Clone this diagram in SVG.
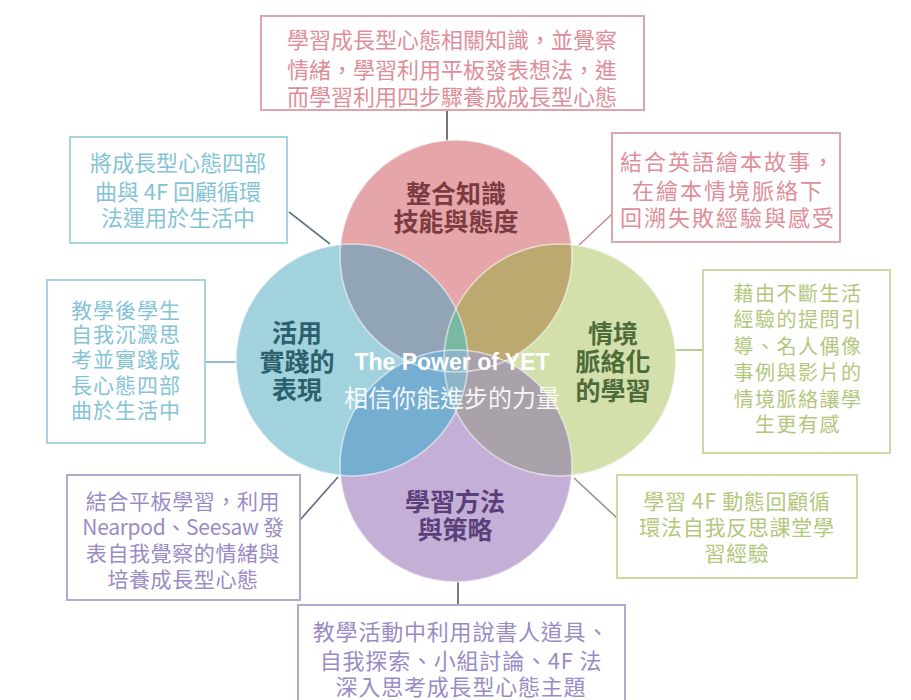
<svg xmlns="http://www.w3.org/2000/svg" width="911" height="700" viewBox="0 0 911 700">
<style>
.cjk{font-family:"Noto Sans CJK TC","Noto Sans CJK SC",sans-serif;text-anchor:middle}
.box{fill:#fff;stroke-width:2}
.lt{font-size:22px;font-weight:400}
.ct{font-size:25px;font-weight:700}
.pinkB{stroke:#dba5ad}.pinkT{fill:#de8e99}
.blueB{stroke:#a7d3de}.blueT{fill:#84c3d6}
.greenB{stroke:#cbd9a3}.greenT{fill:#b3c77c}
.purpB{stroke:#b3a9cf}.purpT{fill:#9a8bc6}
.conn line{stroke-width:1.6}
.ring{fill:none;stroke:#fff;stroke-opacity:.55;stroke-width:1.6}
</style>
<defs>
<clipPath id="cTop"><circle cx="456" cy="256" r="116"/></clipPath>
<clipPath id="cLeft"><circle cx="352" cy="360" r="116"/></clipPath>
<clipPath id="cRight"><circle cx="560" cy="360" r="116"/></clipPath>
<clipPath id="cBot"><circle cx="456" cy="466" r="116"/></clipPath>
</defs>
<rect width="911" height="700" fill="#fff"/>

<g id="connectors" class="conn">
<line x1="447" y1="110" x2="447" y2="141" stroke="#5e4d52"/>
<line x1="289" y1="212" x2="330" y2="244" stroke="#5f7882"/>
<line x1="612" y1="214" x2="578" y2="246" stroke="#c98c97"/>
<line x1="205" y1="362" x2="237" y2="362" stroke="#72afbf"/>
<line x1="675" y1="350" x2="703" y2="350" stroke="#a8bf78"/>
<line x1="300" y1="520" x2="338" y2="477" stroke="#6a6480"/>
<line x1="574" y1="478" x2="617" y2="518" stroke="#8e9a82"/>
<line x1="458" y1="580" x2="458" y2="605" stroke="#585858"/>
</g>

<g id="venn">
<circle cx="456" cy="256" r="116" fill="#e6a5a9"/>
<circle cx="352" cy="360" r="116" fill="#a1d2de"/>
<circle cx="560" cy="360" r="116" fill="#d3e0ac"/>
<circle cx="456" cy="466" r="116" fill="#c4b0d7"/>
<circle cx="352" cy="360" r="116" fill="#91a5b6" clip-path="url(#cTop)"/>
<circle cx="560" cy="360" r="116" fill="#bca96f" clip-path="url(#cTop)"/>
<circle cx="352" cy="360" r="116" fill="#76aed2" clip-path="url(#cBot)"/>
<circle cx="560" cy="360" r="116" fill="#a9a2aa" clip-path="url(#cBot)"/>
<circle cx="352" cy="360" r="116" fill="#79b9a3" clip-path="url(#cRight)"/>
<g clip-path="url(#cBot)"><circle cx="352" cy="360" r="116" fill="#8cb6c8" clip-path="url(#cRight)"/></g>
<circle class="ring" cx="456" cy="256" r="116"/>
<circle class="ring" cx="352" cy="360" r="116"/>
<circle class="ring" cx="560" cy="360" r="116"/>
<circle class="ring" cx="456" cy="466" r="116"/>
</g>

<g id="circle-top" class="cjk ct" fill="#7b3b41">
<text x="456" y="203">整合知識</text>
<text x="456" y="231">技能與態度</text>
</g>
<g id="circle-left" class="cjk ct" fill="#2d606d">
<text x="297" y="342">活用</text>
<text x="297" y="371">實踐的</text>
<text x="297" y="399">表現</text>
</g>
<g id="circle-right" class="cjk ct" fill="#4e6b3a">
<text x="613" y="343">情境</text>
<text x="613" y="371">脈絡化</text>
<text x="613" y="400">的學習</text>
</g>
<g id="circle-bottom" class="cjk ct" fill="#5b3f7a">
<text x="455" y="511">學習方法</text>
<text x="455" y="539">與策略</text>
</g>
<g id="center-title" fill="#fff">
<text x="452" y="370" font-family="'Liberation Sans',Arial,sans-serif" font-weight="700" font-size="23" text-anchor="middle">The Power of YET</text>
<text x="452" y="407" class="cjk" font-size="24" fill-opacity="0.92">相信你能進步的力量</text>
</g>

<g id="box-top">
<rect class="box pinkB" x="261" y="16" width="383" height="94"/>
<g class="cjk lt pinkT">
<text x="452" y="48">學習成長型心態相關知識，並覺察</text>
<text x="452" y="78">情緒，學習利用平板發表想法，進</text>
<text x="452" y="105">而學習利用四步驟養成成長型心態</text>
</g>
</g>

<g id="box-top-left">
<rect class="box blueB" x="70" y="137" width="217" height="106"/>
<g class="cjk lt blueT">
<text x="178" y="171">將成長型心態四部</text>
<text x="178" y="200">曲與 4F 回顧循環</text>
<text x="178" y="226">法運用於生活中</text>
</g>
</g>

<g id="box-top-right">
<rect class="box pinkB" x="612" y="133" width="228" height="109"/>
<g class="cjk pinkT" font-size="22" letter-spacing="2">
<text x="728" y="170">結合英語繪本故事，</text>
<text x="728" y="199">在繪本情境脈絡下</text>
<text x="728" y="226">回溯失敗經驗與感受</text>
</g>
</g>

<g id="box-left">
<rect class="box blueB" x="47" y="280" width="158" height="163"/>
<g class="cjk blueT" font-size="21" letter-spacing="1">
<text x="126" y="318">教學後學生</text>
<text x="126" y="342">自我沉澱思</text>
<text x="126" y="367">考並實踐成</text>
<text x="126" y="393">長心態四部</text>
<text x="126" y="418">曲於生活中</text>
</g>
</g>

<g id="box-right">
<rect class="box greenB" x="703" y="270" width="187" height="183"/>
<g class="cjk greenT" font-size="20" letter-spacing="1.5">
<text x="798" y="301">藉由不斷生活</text>
<text x="798" y="327">經驗的提問引</text>
<text x="798" y="354">導、名人偶像</text>
<text x="798" y="380">事例與影片的</text>
<text x="798" y="407">情境脈絡讓學</text>
<text x="798" y="432">生更有感</text>
</g>
</g>

<g id="box-bottom-left">
<rect class="box purpB" x="67" y="475" width="233" height="125"/>
<g class="cjk purpT" font-size="21" letter-spacing="0.6">
<text x="183" y="509">結合平板學習，利用</text>
<text x="183" y="535" letter-spacing="-0.3">Nearpod、Seesaw 發</text>
<text x="183" y="561">表自我覺察的情緒與</text>
<text x="183" y="587">培養成長型心態</text>
</g>
</g>

<g id="box-bottom-right">
<rect class="box greenB" x="617" y="475" width="240" height="103"/>
<g class="cjk greenT" font-size="21" letter-spacing="0.7">
<text x="737" y="509">學習 4F 動態回顧循</text>
<text x="737" y="535">環法自我反思課堂學</text>
<text x="737" y="561">習經驗</text>
</g>
</g>

<g id="box-bottom">
<rect class="box purpB" x="298" y="605" width="327" height="120"/>
<g class="cjk purpT" font-size="22" letter-spacing="0.8">
<text x="461" y="640">教學活動中利用說書人道具、</text>
<text x="461" y="669">自我探索、小組討論、4F 法</text>
<text x="461" y="695">深入思考成長型心態主題</text>
</g>
</g>
</svg>
